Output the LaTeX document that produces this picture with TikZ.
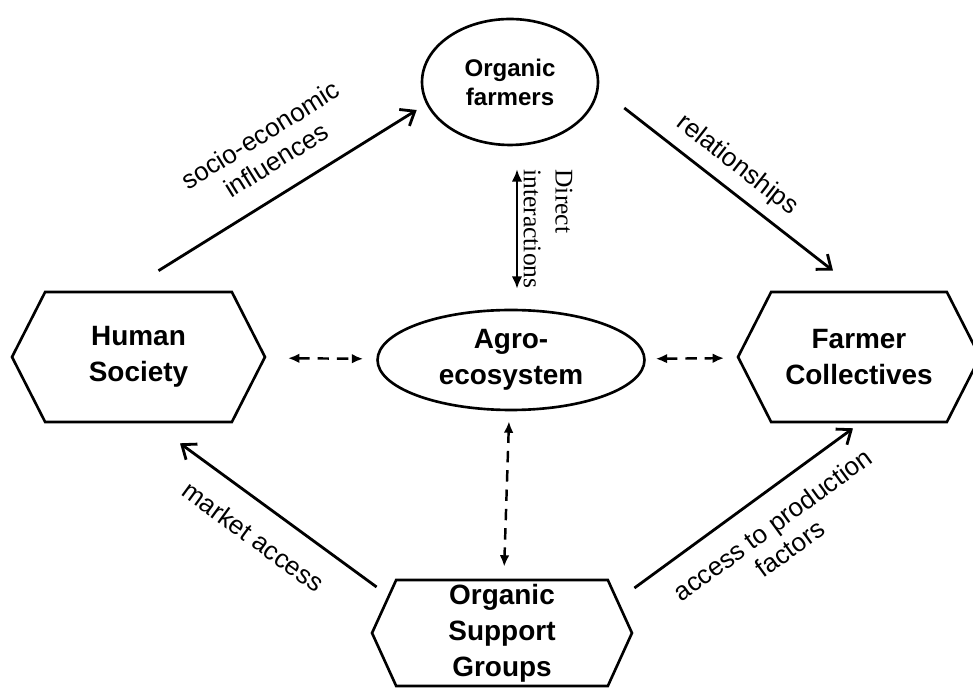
\documentclass[tikz,border=0pt]{standalone}
\usepackage{fontspec}
\setmainfont{Liberation Sans}
\newfontfamily\timesface{Liberation Serif}
\usetikzlibrary{calc, arrows.meta, shapes.geometric, shapes.symbols}

\begin{document}
\begin{tikzpicture}[
    x=0.02cm, y=-0.02cm,
    % node styles
    oval node/.style={ellipse, draw, line width=1.5pt, inner sep=0pt, align=center, font=\bfseries\fontsize{15.9}{20.5}\selectfont},
    hex node/.style={signal, signal to=west and east, draw, line width=1.5pt, inner sep=0pt, align=center, font=\bfseries\fontsize{15.9}{20.5}\selectfont},
    % edge styles
    flow edge/.style={-{Straight Barb[length=7pt, width=11pt]}, line width=1.6pt},
    link edge/.style={{Latex[length=6.5pt, width=5.5pt]}-{Latex[length=6.5pt, width=5.5pt]}, line width=1.4pt, dash pattern=on 6.5pt off 4.5pt},
    edge label/.style={sloped, font=\fontsize{14.8}{16.8}\selectfont, align=center, inner sep=0pt}
]
    \useasboundingbox (0,0) rectangle (973,688);

    % ---------------------------------------------------------------
    % 1. Positions
    % ---------------------------------------------------------------
    \coordinate (p-of)   at (510, 82);   % organic farmers
    \coordinate (p-agro) at (511, 360);  % agro-ecosystem
    \coordinate (p-hs)   at (138.5, 357);% human society
    \coordinate (p-fc)   at (859, 357);  % farmer collectives
    \coordinate (p-osg)  at (502, 633);  % support groups

    % ---------------------------------------------------------------
    % 2. Nodes
    % ---------------------------------------------------------------
    \node[oval node, minimum width=3.52cm, minimum height=2.52cm, font=\bfseries\fontsize{13.7}{16.5}\selectfont] (of) at (p-of) {Organic\\farmers};
    \node[oval node, minimum width=5.34cm, minimum height=2cm] (agro) at (p-agro) {Agro-\\ecosystem};
    \node[hex node, minimum width=5.06cm, minimum height=2.6cm, signal pointer angle=126] (hs) at (p-hs) {Human\\Society};
    \node[hex node, minimum width=4.84cm, minimum height=2.6cm, signal pointer angle=126] (fc) at (p-fc) {Farmer\\Collectives};
    \node[hex node, minimum width=5.2cm, minimum height=2.12cm, signal pointer angle=131] (osg) at (p-osg) {Organic\\Support\\Groups};

    % ---------------------------------------------------------------
    % 3. Influences (solid arrows)
    % ---------------------------------------------------------------
    \draw[flow edge] ([shift={(20,-20)}]hs.north) -- ([shift={(-4,28)}]of.west)
        node[edge label, pos=0.52, above=12pt] {socio-economic\\influences};
    \draw[flow edge] ([shift={(25,26)}]of.east) -- ([shift={(-26,-20)}]fc.north)
        node[edge label, pos=0.47, above=6pt] {relationships};
    \draw[flow edge] ([shift={(6,-46)}]osg.west) -- ([shift={(41.5,20)}]hs.south)
        node[edge label, pos=0.53, below=12pt] {market access};
    \draw[flow edge] ([shift={(1,-45)}]osg.east) -- ([shift={(-6,5)}]fc.south)
        node[edge label, pos=0.55, below=11pt] {access to production\\factors};

    % ---------------------------------------------------------------
    % 4. Interactions with the agro-ecosystem
    % ---------------------------------------------------------------
    \draw[{Latex[length=7pt, width=6pt]}-{Latex[length=7pt, width=6pt]}, line width=1.4pt]
        ([shift={(7,23)}]of.south) -- ([shift={(6,-20)}]agro.north)
        node[midway, anchor=south, rotate=-90, align=left, inner sep=3pt,
             font=\timesface\fontsize{14.5}{18.2}\selectfont] {Direct\\interactions};

    \foreach \a/\b/\s/\t in {hs/agro/0.44cm/0.26cm, agro/fc/0.2cm/0.26cm, agro/osg/0.2cm/0.24cm} {
        \draw[link edge, shorten <=\s, shorten >=\t] (\a) -- (\b);
    }
\end{tikzpicture}
\end{document}
